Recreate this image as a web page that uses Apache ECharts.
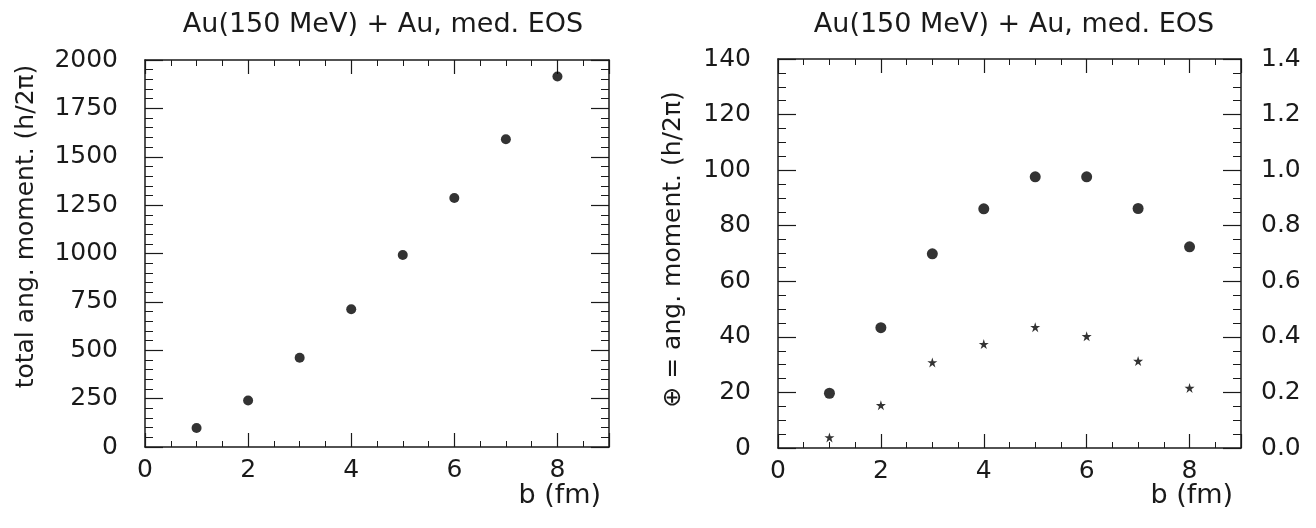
<!DOCTYPE html>
<html>
<head>
<meta charset="utf-8">
<script src="https://cdn.jsdelivr.net/npm/echarts@6/dist/echarts.min.js"></script>
<style>
  html, body { margin: 0; padding: 0; background: #fff; }
  #chart { width: 1316px; height: 528px; }
</style>
</head>
<body>
<div id="chart"></div>
<script>
// Impact parameter b (fm)
const impactParam = [1, 2, 3, 4, 5, 6, 7, 8];
// Total angular momentum (h/2pi) vs b
const totalAngMoment = [98, 240, 461, 712, 992, 1287, 1590, 1915];
// Angular momentum (h/2pi), left scale of the right panel (filled circles)
const angMoment = [19.7, 43.3, 69.9, 86.1, 97.6, 97.6, 86.2, 72.4];
// Second quantity, right-hand scale of the right panel (stars)
const starValues = [0.038, 0.154, 0.308, 0.374, 0.435, 0.402, 0.313, 0.216];

const titleText = 'Au(150 MeV) + Au, med. EOS';
const xTickLabels = ['0', '2', '4', '6', '8'];

const FONT = 'DejaVu Sans';
const INK = '#1a1a1a';
const STAR = 'path://M50,0 L61.2,34.5 L97.6,34.5 L68.2,55.9 L79.4,90.5 L50,69.1 L20.6,90.5 L31.8,55.9 L2.4,34.5 L38.8,34.5 Z';

const pairs = (xs, ys) => xs.map((x, i) => [x, ys[i]]);

function xAxisFor(gridIndex, position, showLabels) {
  return {
    type: 'value', gridIndex, position, min: 0, max: 9, interval: 2,
    axisLine: { show: true, onZero: false, lineStyle: { color: INK, width: 1.5 } },
    axisTick: { show: true, inside: true, length: 14, lineStyle: { color: INK, width: 1.2 } },
    minorTick: { show: true, splitNumber: 4, length: 6, lineStyle: { color: INK, width: 1 } },
    splitLine: { show: false },
    axisLabel: {
      show: showLabels, margin: 11, fontFamily: FONT, fontSize: 25, color: INK,
      formatter: v => xTickLabels.indexOf(String(v)) >= 0 ? String(v) : ''
    }
  };
}

function yAxisFor(gridIndex, position, max, interval, minorSplit, showLabels, fmt) {
  return {
    type: 'value', gridIndex, position, min: 0, max, interval,
    axisLine: { show: true, onZero: false, lineStyle: { color: INK, width: 1.5 } },
    axisTick: { show: true, inside: true, length: 18, lineStyle: { color: INK, width: 1.2 } },
    minorTick: { show: true, splitNumber: minorSplit, length: 8, lineStyle: { color: INK, width: 1 } },
    splitLine: { show: false },
    axisLabel: {
      show: showLabels, margin: position === 'left' ? 27 : 20,
      fontFamily: FONT, fontSize: 25, color: INK, formatter: fmt
    }
  };
}

const chart = echarts.init(document.getElementById('chart'), null, { renderer: 'canvas' });

chart.setOption({
  animation: false,
  backgroundColor: '#fff',
  grid: [
    { left: 145, right: 707, top: 60, bottom: 81 },
    { left: 778, right: 75, top: 59, bottom: 80 }
  ],
  xAxis: [
    xAxisFor(0, 'bottom', true),
    xAxisFor(0, 'top', false),
    xAxisFor(1, 'bottom', true),
    xAxisFor(1, 'top', false)
  ],
  yAxis: [
    Object.assign(yAxisFor(0, 'left', 2000, 250, 5, true, v => String(v)), {
      name: 'total ang. moment. (h/2π)', nameLocation: 'middle', nameGap: 106, nameRotate: 90,
      nameTextStyle: { fontFamily: FONT, fontSize: 25, color: INK, padding: [0, 0, 0, 54] }
    }),
    yAxisFor(0, 'right', 2000, 250, 5, false, v => String(v)),
    Object.assign(yAxisFor(1, 'left', 140, 20, 4, true, v => String(v)), {
      name: '⊕ = ang. moment. (h/2π)', nameLocation: 'middle', nameGap: 92, nameRotate: 90,
      nameTextStyle: { fontFamily: FONT, fontSize: 25, color: INK, padding: [0, 0, 0, 8] }
    }),
    yAxisFor(1, 'right', 1.4, 0.2, 4, true, v => v.toFixed(1))
  ],
  series: [
    {
      type: 'scatter', xAxisIndex: 0, yAxisIndex: 0,
      data: pairs(impactParam, totalAngMoment),
      symbol: 'circle', symbolSize: 10, itemStyle: { color: '#000' }
    },
    {
      type: 'scatter', xAxisIndex: 2, yAxisIndex: 2,
      data: pairs(impactParam, angMoment),
      symbol: 'circle', symbolSize: 11, itemStyle: { color: '#000' }
    },
    {
      type: 'scatter', xAxisIndex: 2, yAxisIndex: 3,
      data: pairs(impactParam, starValues),
      symbol: STAR, symbolSize: 10, itemStyle: { color: '#000' }
    }
  ],
  graphic: [
    { type: 'text', x: 383, y: 25, style: { text: titleText, font: `27px "${FONT}"`, fill: INK, align: 'center', verticalAlign: 'middle' } },
    { type: 'text', x: 1014, y: 25, style: { text: titleText, font: `27px "${FONT}"`, fill: INK, align: 'center', verticalAlign: 'middle' } },
    { type: 'text', x: 601, y: 496, style: { text: 'b (fm)', font: `27px "${FONT}"`, fill: INK, align: 'right', verticalAlign: 'middle' } },
    { type: 'text', x: 1233, y: 496, style: { text: 'b (fm)', font: `27px "${FONT}"`, fill: INK, align: 'right', verticalAlign: 'middle' } }
  ]
});
</script>
</body>
</html>
